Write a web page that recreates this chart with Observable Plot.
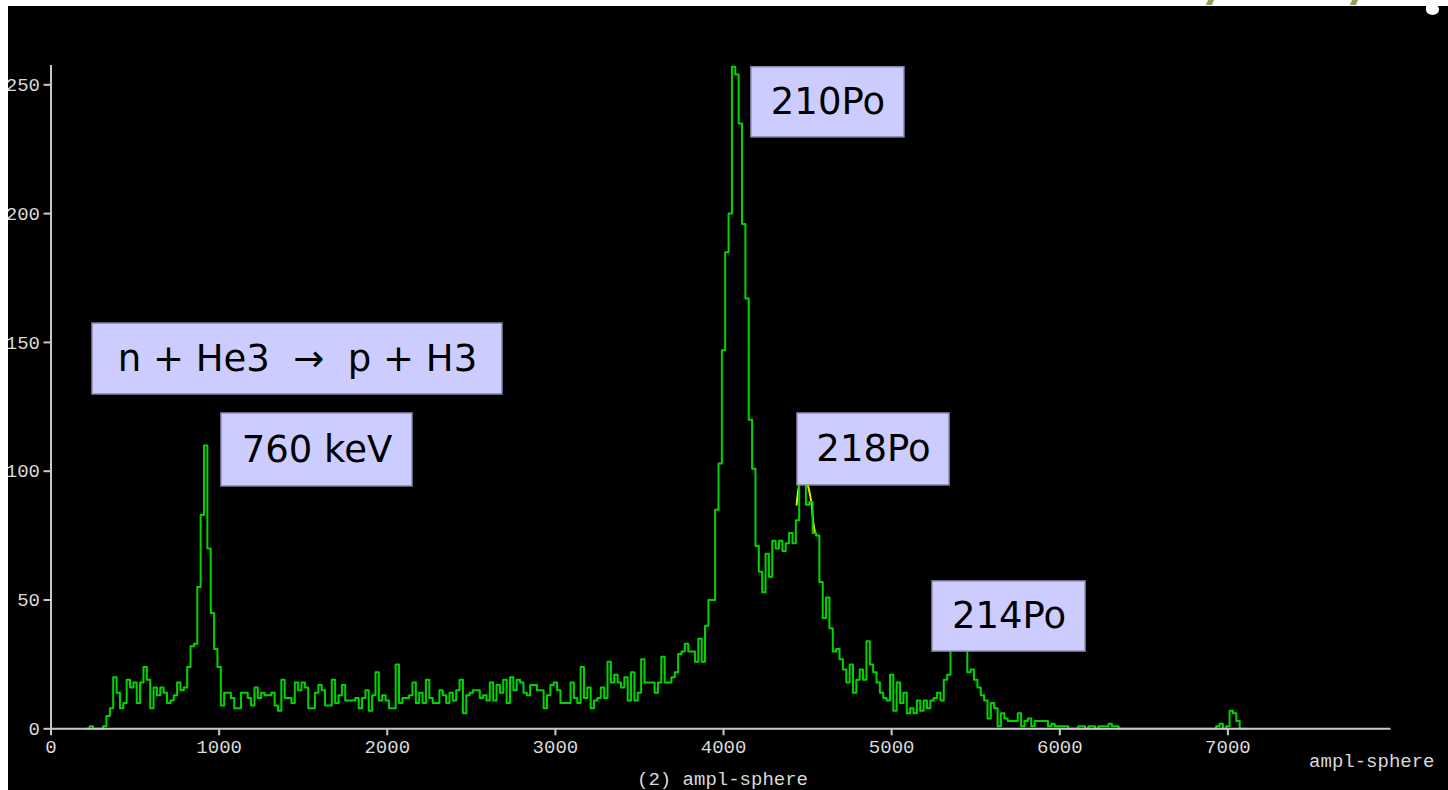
<!DOCTYPE html>
<html><head><meta charset="utf-8">
<script src="https://cdn.jsdelivr.net/npm/d3@7"></script>
<script src="https://cdn.jsdelivr.net/npm/@observablehq/plot@0.6"></script>
<style>
html,body{margin:0;padding:0;background:#fff;width:1448px;height:790px;overflow:hidden;position:relative}
#chart{position:absolute;left:0;top:0}
.strip{position:absolute;background:#fff}
.olive{position:absolute;background:#9c9a58;transform:skewX(-22deg)}
</style></head><body>
<div id="chart"></div>
<div class="strip" style="left:0;top:0;width:1448px;height:6px"></div>
<div class="strip" style="left:0;top:0;width:8px;height:790px"></div>
<div class="olive" style="left:1207px;top:0;width:6px;height:5px"></div>
<div class="olive" style="left:1351px;top:0;width:6px;height:5px"></div>
<div class="strip" style="left:1426px;top:5px;width:13px;height:10px;border-radius:2px 40% 50% 50%"></div>
<script>
// histogram: bins of 20 units starting at 210
const binStart = 210;
const binWidth = 20;
const counts = [
  0,1,0,0,0,   1,5,8,20,14,   8,10,19,16,18,   10,18,24,19,8,   16,13,16,14,10,
  11,13,18,15,16,   24,32,33,55,83,   110,70,45,31,24,
  9,14,14,12,8,   8,14,14,12,9,   16,12,14,13,13,   14,9,7,19,12,   12,10,18,15,18,
  16,8,8,14,17,   15,9,9,19,10,   13,17,11,11,11,   12,8,12,15,7,   13,22,11,13,11,
  8,8,25,10,12,   12,13,18,10,14,   10,19,12,10,10,   15,13,10,14,11,   15,19,6,13,14,
  15,15,12,13,11,   18,11,17,14,19,   10,20,15,19,18,   14,13,17,17,15,   15,8,13,17,18,
  15,10,10,10,18,   12,10,24,12,16,   8,11,12,16,12,   26,18,21,18,16,   20,11,22,11,14,
  27,18,18,18,14,   18,28,18,18,20,   22,29,30,33,30,   30,26,35,26,40,   50,50,85,103,147,
  185,200,257,254,235,   196,167,120,101,71,   61,53,68,59,73,   70,73,69,72,76,   72,81,98,96,87,
  88,76,75,57,43,   51,39,30,31,27,   23,18,25,14,19,   23,19,34,25,22,   18,14,12,11,21,
  7,18,10,14,6,   8,6,11,7,11,   8,11,12,14,11,   19,21,31,34,36,   33,32,22,23,19,
  16,13,11,4,10,   8,1,6,4,3,   3,3,6,1,3,   4,1,3,3,3,   3,1,2,1,1,
  1,1,0,0,0,   1,1,0,1,1,   0,1,1,1,2,   1,1,0,0,0,   0,0,0,0,0,
  0,0,0,0,0,   0,0,0,0,0,   0,0,0,0,0,   0,0,0,0,0,   0,1,2,0,1,
  7,6,3,0,0
];
// fitted curve over the 218Po peak
const fitX = [4435, 4448, 4462, 4476, 4490, 4504, 4514, 4524, 4534, 4544];
const fitY = [87, 94, 97, 98, 97, 94, 91, 87, 80, 76];

const xTicks = [0, 1000, 2000, 3000, 4000, 5000, 6000, 7000];
const yTicks = [0, 50, 100, 150, 200, 250];
const xAxisLabel = "ampl-sphere";
const bottomTitle = "(2) ampl-sphere";

// annotation boxes (data units)
const boxLabels = ["n + He3 \u00a0\u2192\u00a0 p + H3", "760 keV", "210Po", "218Po", "214Po"];
const boxX1 = [247, 1014, 4166, 4440, 5243];
const boxX2 = [2685, 2150, 5076, 5344, 6153];
const boxY1 = [129.8, 94.1, 229.6, 94.5, 30.0];
const boxY2 = [157.3, 122.4, 256.8, 122.4, 57.2];

const hist = counts.map((c, i) => ({x: binStart + i * binWidth, y: c}));
hist.push({x: binStart + counts.length * binWidth, y: 0});
const fit = fitX.map((x, i) => ({x, y: fitY[i]}));
const boxes = boxLabels.map((label, i) => ({label, x1: boxX1[i], x2: boxX2[i], y1: boxY1[i], y2: boxY2[i]}));

const axisGray = "#c8c8c8";
const textGray = "#dadada";

const chart = Plot.plot({
  width: 1448,
  height: 790,
  marginLeft: 50.5,
  marginRight: 57.5,
  marginTop: 65,
  marginBottom: 61.7,
  x: {domain: [0, 7970]},
  y: {domain: [0, 257.5]},
  style: {background: "#000", color: textGray, fontFamily: "'Liberation Mono', monospace", fontSize: "19px"},
  marks: [
    Plot.line(fit, {x: "x", y: "y", stroke: "#e6e600", strokeWidth: 2, curve: "catmull-rom"}),
    Plot.line(hist, {x: "x", y: "y", curve: "step-after", stroke: "#00d400", strokeWidth: 2}),
    Plot.ruleY([0], {stroke: axisGray, strokeWidth: 2}),
    Plot.ruleX([0], {stroke: axisGray, strokeWidth: 2}),
    Plot.axisX({ticks: xTicks, tickFormat: d => String(d), tickSize: 7, tickPadding: 4, stroke: axisGray, fill: textGray, strokeWidth: 2, label: null}),
    Plot.axisY({ticks: yTicks, tickFormat: d => String(d), tickSize: 7, tickPadding: 4, stroke: axisGray, fill: textGray, strokeWidth: 2, label: null}),
    Plot.text([xAxisLabel], {text: d => d, frameAnchor: "bottom-right", dx: 43.5, dy: 37.7, textAnchor: "end", lineAnchor: "bottom", fill: textGray}),
    Plot.text([bottomTitle], {text: d => d, frameAnchor: "bottom", dx: 1.5, dy: 56.5, lineAnchor: "bottom", fill: textGray}),
    Plot.rect(boxes, {x1: "x1", x2: "x2", y1: "y1", y2: "y2", fill: "#ccccff", stroke: "#8e8eb4", strokeWidth: 1.5}),
    Plot.text(boxes, {x: d => (d.x1 + d.x2) / 2, y: d => (d.y1 + d.y2) / 2, text: "label", fontSize: 37, fontFamily: "'DejaVu Sans', Verdana, sans-serif", fill: "#000"})
  ]
});
document.getElementById("chart").appendChild(chart);
</script>
</body></html>
